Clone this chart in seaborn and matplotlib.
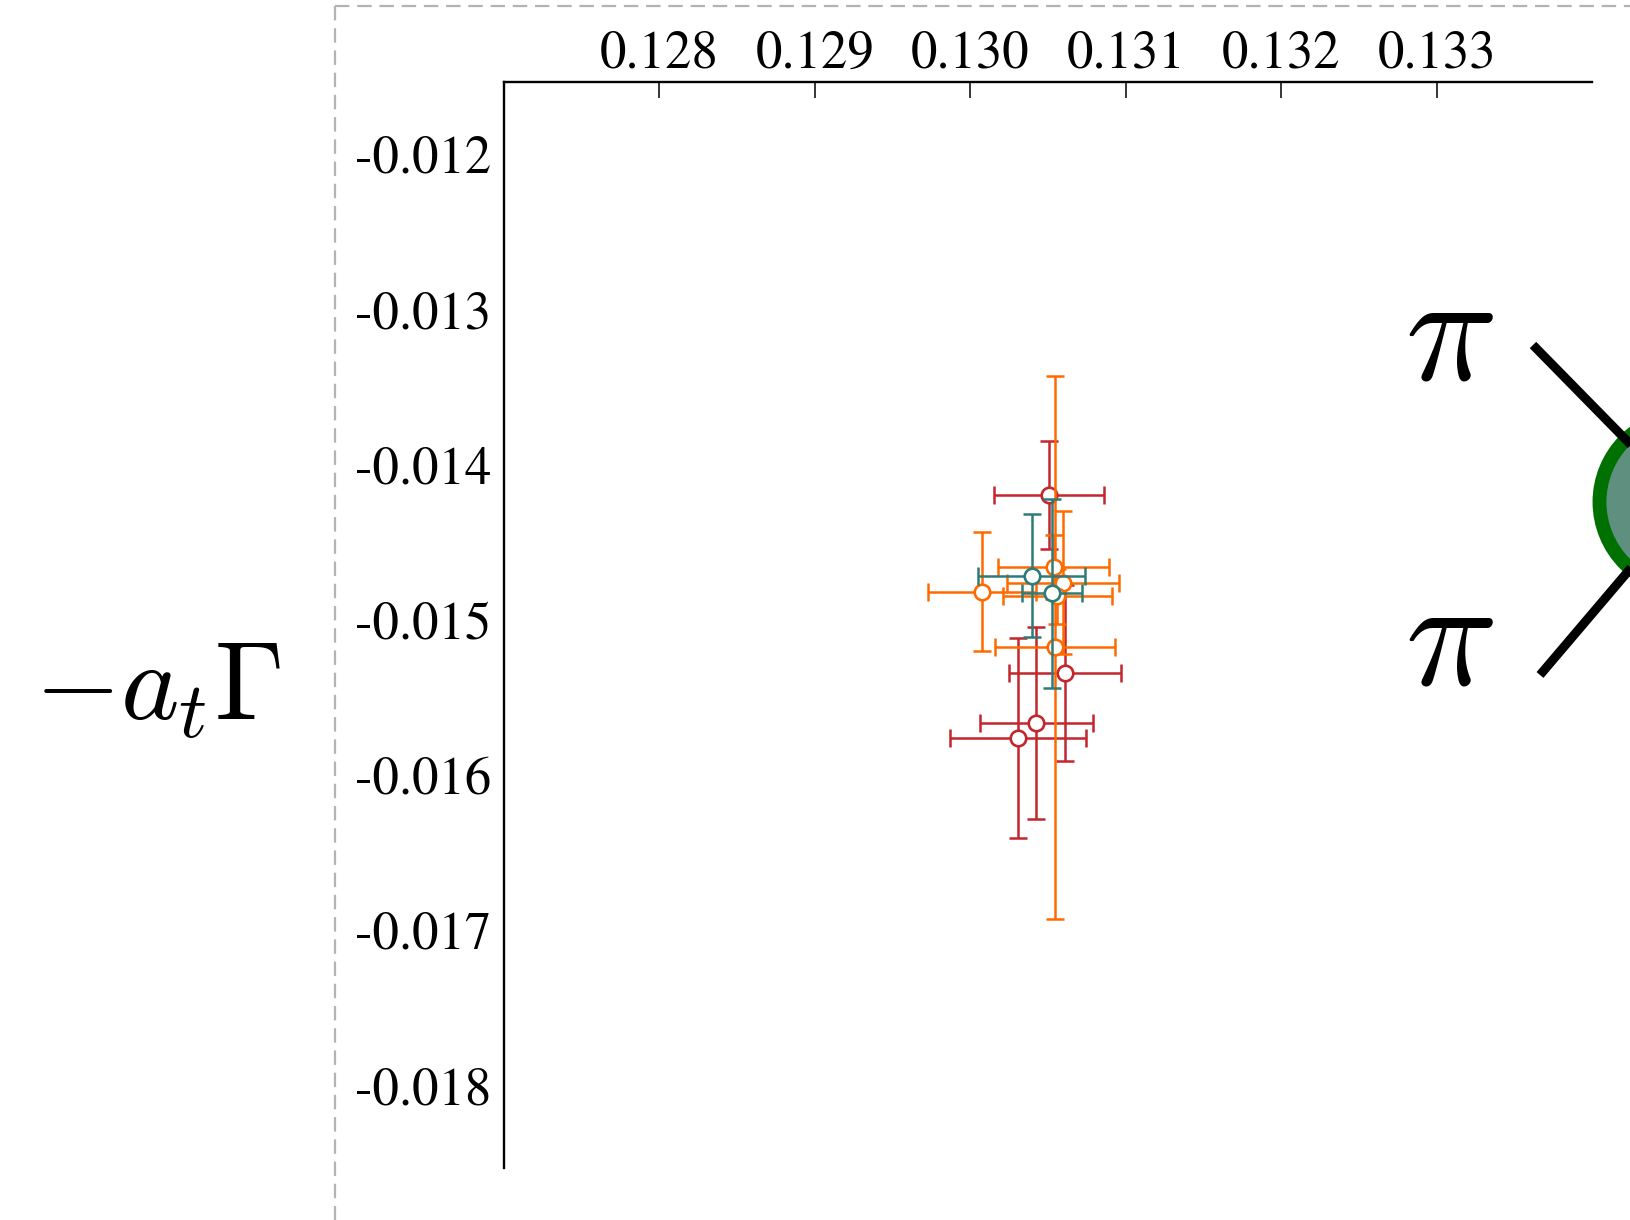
import pandas as pd
import matplotlib
matplotlib.use("Agg")
import matplotlib.pyplot as plt
from matplotlib.lines import Line2D
from matplotlib.patches import Circle
from matplotlib.ticker import FormatStrFormatter
from matplotlib.transforms import ScaledTranslation
import seaborn as sns

# data (x, y with symmetric errors)
red_x = [0.130508, 0.130608, 0.130424, 0.130309]
red_xerr = [0.000354, 0.000360, 0.000363, 0.000437]
red_y = [-0.014161, -0.015312, -0.015633, -0.015730]
red_yerr = [0.000347, 0.000566, 0.000620, 0.000643]

orange_x = [0.130077, 0.130537, 0.130598, 0.130547, 0.130560]
orange_xerr = [0.000347, 0.000357, 0.000360, 0.000386, 0.000350]
orange_y = [-0.014785, -0.014624, -0.014727, -0.015145, -0.014817]
orange_yerr = [0.000386, 0.000206, 0.000463, 0.001750, 0.000180]

teal_x = [0.130395, 0.130527]
teal_xerr = [0.000344, 0.000193]
teal_y = [-0.014682, -0.014797]
teal_yerr = [0.000395, 0.000608]

x_ticks = [0.128, 0.129, 0.130, 0.131, 0.132, 0.133]
y_ticks = [-0.012, -0.013, -0.014, -0.015, -0.016, -0.017, -0.018]

colors = {"red": "#C1272D", "orange": "#FF6A00", "teal": "#2F7B77"}


def build_frame():
    parts = []
    for name, x, xe, y, ye in [
        ("red", red_x, red_xerr, red_y, red_yerr),
        ("orange", orange_x, orange_xerr, orange_y, orange_yerr),
        ("teal", teal_x, teal_xerr, teal_y, teal_yerr),
    ]:
        parts.append(pd.DataFrame({"x": x, "xerr": xe, "y": y, "yerr": ye, "set": name}))
    return pd.concat(parts, ignore_index=True)


def main():
    df = build_frame()

    sns.set_style("white")
    plt.rcParams["font.family"] = ["STIXGeneral", "DejaVu Serif"]
    plt.rcParams["mathtext.fontset"] = "cm"
    plt.rcParams["axes.unicode_minus"] = False
    plt.rcParams["text.color"] = "black"
    plt.rcParams["xtick.color"] = "black"
    plt.rcParams["ytick.color"] = "black"

    fig = plt.figure(figsize=(16.3, 12.2), dpi=100)
    ax = fig.add_axes([0.3092, 0.0426, 0.6675, 0.8904])

    for z, name in enumerate(["red", "orange", "teal"]):
        sub = df[df["set"] == name]
        ax.errorbar(sub["x"], sub["y"], xerr=sub["xerr"], yerr=sub["yerr"],
                    fmt="none", ecolor=colors[name], elinewidth=1.8,
                    capsize=6.8, capthick=1.8, zorder=2 + 2 * z)
        sns.scatterplot(data=sub, x="x", y="y", ax=ax, color="white",
                        edgecolor=colors[name], linewidth=1.9, s=125,
                        zorder=3 + 2 * z, legend=False)

    ax.set_xlim(0.127, 0.134)
    ax.set_ylim(-0.0185, -0.0115)
    ax.set_xticks(x_ticks)
    ax.set_yticks(y_ticks)
    ax.xaxis.set_major_formatter(FormatStrFormatter("%.3f"))
    ax.yaxis.set_major_formatter(FormatStrFormatter("%.3f"))
    ax.xaxis.tick_top()
    ax.tick_params(axis="both", direction="in", length=11.5, width=1.1,
                   labelsize=38, color="black", labelcolor="black")
    ax.tick_params(axis="x", pad=1.5)
    ax.tick_params(axis="y", pad=9)
    ax.set_xlabel("")
    ax.set_ylabel("")
    for side in ["right", "bottom"]:
        ax.spines[side].set_visible(False)
    for side in ["left", "top"]:
        ax.spines[side].set_linewidth(1.7)
        ax.spines[side].set_color("black")

    # nudge y tick labels up a little
    shift = ScaledTranslation(0, 0.05, fig.dpi_scale_trans)
    for lbl in ax.get_yticklabels():
        lbl.set_transform(lbl.get_transform() + shift)

    # axis label placed beside the plot
    fig.text(0.0963, 0.431, r"$-a_t\Gamma$", fontsize=80, ha="center", va="center")

    # dashed frame
    inch = fig.dpi_scale_trans
    frame_kw = dict(color="#b3b3b3", lw=1.6, linestyle=(0, (6.5, 3.5)), transform=inch)
    fig.add_artist(Line2D([3.35, 3.35], [12.14, 0.0], **frame_kw))
    fig.add_artist(Line2D([3.35, 16.3], [12.14, 12.14], **frame_kw))

    # pi pi diagram on the right
    fig.text(0.889, 0.7189, r"$\pi$", fontsize=110, ha="center", va="center")
    fig.text(0.889, 0.4689, r"$\pi$", fontsize=110, ha="center", va="center")
    fig.add_artist(Line2D([15.33, 16.87], [8.75, 7.18], color="black", lw=6.5,
                          transform=inch, solid_capstyle="butt"))
    fig.add_artist(Line2D([15.40, 16.87], [5.45, 7.18], color="black", lw=6.5,
                          transform=inch, solid_capstyle="butt"))
    fig.add_artist(Circle((16.87, 7.18), 0.875, facecolor="#5F8F7F",
                          edgecolor="#007000", lw=10, transform=inch))

    fig.savefig("out.png", dpi=100)
    plt.close(fig)


if __name__ == "__main__":
    main()
